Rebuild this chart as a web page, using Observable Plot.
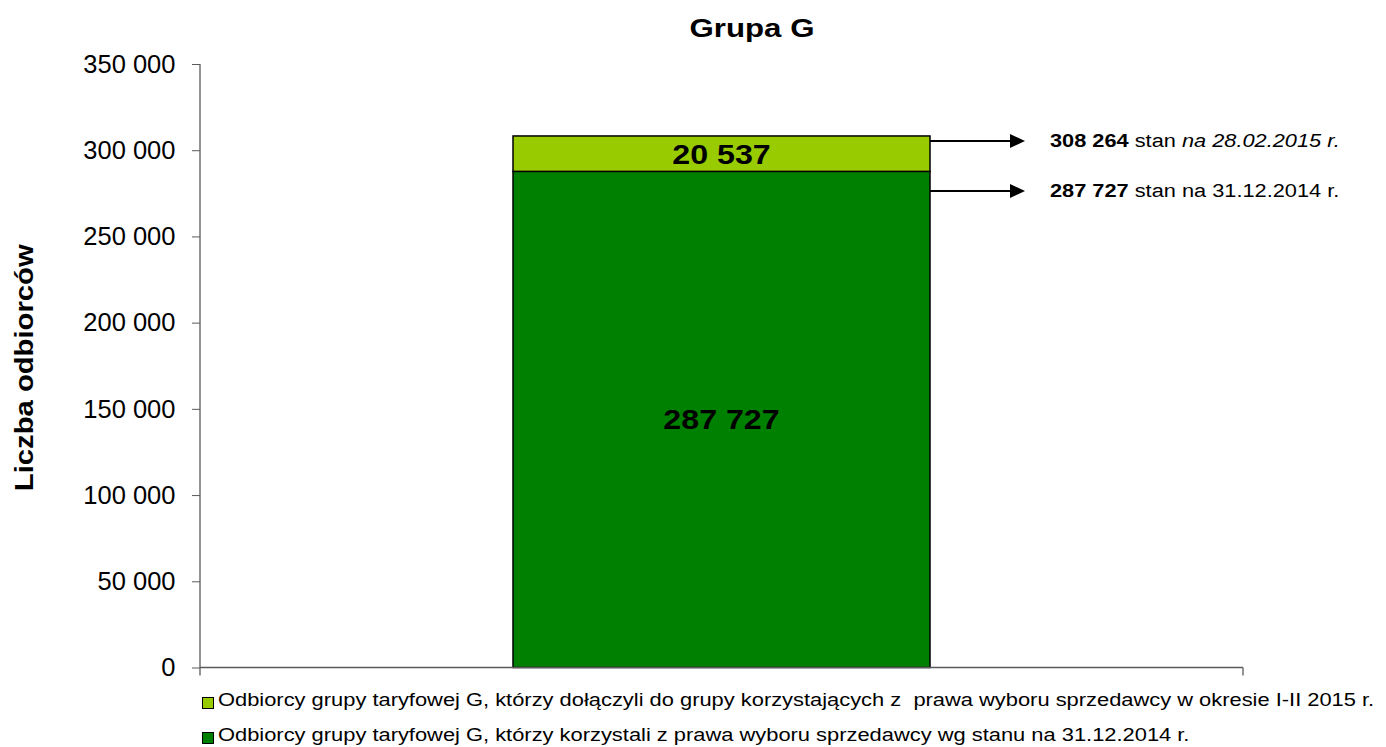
<!DOCTYPE html>
<html>
<head>
<meta charset="utf-8">
<script src="https://cdn.jsdelivr.net/npm/d3@7"></script>
<script src="https://cdn.jsdelivr.net/npm/@observablehq/plot@0.6"></script>
<style>
  body { margin: 0; background: #fff; font-family: "Liberation Sans", Arial, sans-serif; }
  #wrap { position: relative; width: 1386px; height: 747px; overflow: hidden; background: #fff; }
  #title { position: absolute; top: 16px; left: 552px; width: 400px; text-align: center;
           font-size: 25.6px; line-height: 25.6px; font-weight: bold; color: #000;
           transform: scaleX(1.22); transform-origin: center; }
  #chart { position: absolute; top: 40px; left: 0; }
  #legend { position: absolute; top: 683px; left: 202px; }
  .row { position: relative; height: 35px; line-height: 35px; font-size: 17.5px; color: #000; white-space: pre; }
  .sw { position: absolute; left: 0; top: 14px; width: 10px; height: 10px; border: 1px solid #000; }
  .lt { display: inline-block; position: absolute; left: 16px; top: 0; transform: scaleX(1.25); transform-origin: left center; }
</style>
</head>
<body>
<div id="wrap">
  <div id="title"></div>
  <div id="chart"></div>
  <div id="legend"></div>
</div>
<script>
// ---- data ----
const titleText = "Grupa G";
const yLabel = "Liczba odbiorców";
const categories = ["Grupa G"];
const seriesNames = [
  "Odbiorcy grupy taryfowej G, którzy korzystali z prawa wyboru sprzedawcy wg stanu na 31.12.2014 r.",
  "Odbiorcy grupy taryfowej G, którzy dołączyli do grupy korzystających z  prawa wyboru sprzedawcy w okresie I-II 2015 r."
];
const seriesValues = [287727, 20537];
const seriesColors = ["#008000", "#99CC00"];
const legendOrder = [1, 0];
const yTicks = [0, 50000, 100000, 150000, 200000, 250000, 300000, 350000];
const annotationValues = [308264, 287727];
const annotationWords = ["stan", "stan"];
const annotationDates = ["na 28.02.2015 r.", "na 31.12.2014 r."];
const annotationDateItalic = [true, false];

const fontFamily = '"Liberation Sans", Arial, sans-serif';
const axisColor = "#5a5a5a";
const fmt = v => d3.format(",")(v).replace(/,/g, " ");

const rows = seriesNames.map((s, i) => ({category: categories[0], series: s, value: seriesValues[i]}));

document.getElementById("title").textContent = titleText;

function overlay(index, scales, values, dimensions) {
  const {width, marginLeft, marginRight} = dimensions;
  const sx = scales.x, sy = scales.y;
  const bw = typeof sx.bandwidth === "function" ? sx.bandwidth() : sx.bandwidth;
  const left = marginLeft, right = width - marginRight;
  const base = sy(0), top = sy(yTicks[yTicks.length - 1]);
  const g = d3.create("svg:g").attr("font-family", fontFamily).attr("text-anchor", "start");

  // axis lines
  g.append("line").attr("x1", left).attr("x2", left).attr("y1", top).attr("y2", base + 8)
    .attr("stroke", axisColor).attr("stroke-width", 1.3);
  g.append("line").attr("x1", left).attr("x2", right).attr("y1", base).attr("y2", base)
    .attr("stroke", axisColor).attr("stroke-width", 1.3);
  g.append("line").attr("x1", right).attr("x2", right).attr("y1", base).attr("y2", base + 8)
    .attr("stroke", axisColor).attr("stroke-width", 1.3);

  // y label
  g.append("text")
    .attr("transform", `translate(33,${(top + base) / 2 + 2}) rotate(-90) scale(1.17,1)`)
    .attr("text-anchor", "middle").attr("font-size", 25).attr("font-weight", "bold")
    .attr("fill", "#000").text(yLabel);

  // arrows + annotations
  const xStart = sx(categories[0]) + bw;
  annotationValues.forEach((v, i) => {
    const yA = sy(annotationValues[0]) + 5 + i * 50;
    g.append("line").attr("x1", xStart).attr("x2", xStart + 82).attr("y1", yA).attr("y2", yA)
      .attr("stroke", "#000").attr("stroke-width", 2);
    g.append("path")
      .attr("d", `M${xStart + 80},${yA - 7}L${xStart + 95},${yA}L${xStart + 80},${yA + 7}Z`)
      .attr("fill", "#000");
    const t = g.append("text")
      .attr("transform", `translate(${xStart + 120},${yA + 6}) scale(1.21,1)`)
      .attr("text-anchor", "start")
      .attr("font-size", 18).attr("fill", "#000");
    t.append("tspan").attr("font-weight", "bold").text(fmt(v));
    t.append("tspan").text(" " + annotationWords[i] + " ");
    t.append("tspan").attr("font-style", annotationDateItalic[i] ? "italic" : "normal").text(annotationDates[i]);
  });

  // bar labels (stacked midpoints)
  let cum = 0;
  rows.forEach(r => {
    const mid = sy(cum + r.value / 2);
    cum += r.value;
    g.append("text")
      .attr("transform", `translate(${sx(r.category) + bw / 2},${mid + 10}) scale(1.15,1)`)
      .attr("text-anchor", "middle").attr("font-size", 28).attr("font-weight", "bold")
      .attr("fill", "#000").text(fmt(r.value));
  });
  return g.node();
}

const plot = Plot.plot({
  width: 1386,
  height: 640,
  marginTop: 24,
  marginBottom: 12.5,
  marginLeft: 200,
  marginRight: 143,
  style: {fontFamily, fontSize: "25px", color: "#000", background: "transparent", overflow: "visible"},
  x: {domain: categories, paddingInner: 0, paddingOuter: 0.75, axis: null},
  y: {domain: [yTicks[0], yTicks[yTicks.length - 1]]},
  color: {domain: seriesNames, range: seriesColors},
  marks: [
    Plot.barY(rows, {x: "category", y: "value", fill: "series", stroke: "#000", strokeWidth: 1.5}),
    Plot.axisY(yTicks, {tickFormat: fmt, tickSize: 8, tickPadding: 17, fontSize: 25.5,
                        stroke: axisColor, fill: "#000", label: null}),
    overlay
  ]
});
document.getElementById("chart").appendChild(plot);

// legend
const legend = document.getElementById("legend");
legendOrder.forEach(i => {
  const row = document.createElement("div");
  row.className = "row";
  const sw = document.createElement("span");
  sw.className = "sw";
  sw.style.background = seriesColors[i];
  const lt = document.createElement("span");
  lt.className = "lt";
  lt.textContent = seriesNames[i];
  row.appendChild(sw);
  row.appendChild(lt);
  legend.appendChild(row);
});
</script>
</body>
</html>
